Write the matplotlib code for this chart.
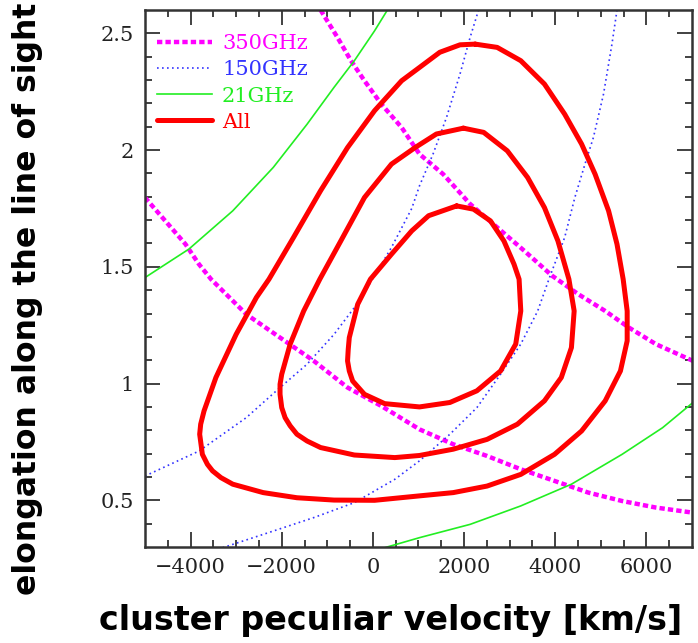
import matplotlib.pyplot as plt

# confidence contours of the combined fit ("All")
outer_x = [2244, 2726, 3244, 3763, 4207, 4578, 4874, 5170, 5355, 5490, 5578, 5578, 5430, 5096, 4578,
           3985, 3244, 2504, 1763, 1022, 37, -852, -1667, -2407, -3074, -3333, -3518, -3630, -3741,
           -3800, -3778, -3704, -3444, -3000, -2555, -2280, -1741, -1148, -556, 37, 630, 1022, 1467,
           1911, 2244]
outer_y = [2.454, 2.44, 2.383, 2.283, 2.154, 2.026, 1.897, 1.74, 1.597, 1.447, 1.311, 1.183, 1.054, 0.926,
           0.797, 0.697, 0.611, 0.561, 0.533, 0.519, 0.5, 0.501, 0.511, 0.533, 0.569, 0.597, 0.626, 0.654,
           0.697, 0.783, 0.826, 0.883, 1.026, 1.211, 1.369, 1.447, 1.626, 1.826, 2.011, 2.169, 2.297,
           2.354, 2.419, 2.451, 2.454]
mid_x = [1985, 2430, 2948, 3393, 3763, 4059, 4300, 4415, 4355, 4133, 3763, 3170, 2504, 1763, 1022,
         481, -407, -1148, -1444, -1667, -1815, -1926, -2000, -2037, -2037, -2000, -1815, -1518, -1165,
         -704, -185, 407, 926, 1393, 1985]
mid_y = [2.094, 2.076, 1.997, 1.883, 1.754, 1.611, 1.447, 1.311, 1.154, 1.026, 0.926, 0.826, 0.761,
         0.719, 0.692, 0.683, 0.694, 0.726, 0.754, 0.783, 0.819, 0.854, 0.897, 0.954, 0.997, 1.04,
         1.169, 1.311, 1.447, 1.611, 1.797, 1.94, 2.011, 2.069, 2.094]
inner_x = [1837, 2207, 2578, 2874, 3096, 3207, 3244, 3133, 2800, 2281, 1689, 1022, 259, -185, -444,
           -518, -556, -541, -518, -333, -55, 407, 852, 1222, 1837]
inner_y = [1.761, 1.747, 1.697, 1.611, 1.511, 1.447, 1.311, 1.169, 1.054, 0.969, 0.919, 0.9, 0.914,
           0.954, 1.011, 1.054, 1.097, 1.147, 1.197, 1.34, 1.447, 1.554, 1.654, 1.719, 1.761]

# 350 GHz degeneracy lines
ghz350_a_x = [-1148, -778, -481, -185, 185, 630, 1022, 1541, 2133, 2726, 3319, 3930, 4504, 5096,
              5615, 6207, 7022]
ghz350_a_y = [2.6, 2.483, 2.383, 2.297, 2.197, 2.097, 1.983, 1.897, 1.769, 1.669, 1.569, 1.462, 1.383,
              1.311, 1.24, 1.169, 1.097]
ghz350_b_x = [-5000, -4555, -4111, -3815, -3550, -2778, -2037, -1296, -556, 185, 1022, 1763, 2504,
              3244, 3985, 4726, 5467, 6207, 7022]
ghz350_b_y = [1.797, 1.697, 1.597, 1.511, 1.447, 1.297, 1.197, 1.097, 0.983, 0.904, 0.804, 0.74, 0.69,
              0.633, 0.583, 0.533, 0.497, 0.469, 0.447]

# 150 GHz
ghz150_a_x = [-5000, -3815, -2778, -2037, -1444, -852, -296, 407, 852, 1022, 1319, 1615, 1911, 2133,
              2318]
ghz150_a_y = [0.604, 0.711, 0.854, 0.983, 1.083, 1.211, 1.354, 1.583, 1.75, 1.847, 1.983, 2.14, 2.326,
              2.483, 2.6]
ghz150_b_x = [-3296, -2407, -1296, -407, 481, 1022, 1689, 2281, 2800, 3244, 3615, 3874, 4207, 4430,
              4652, 4837, 5059, 5244, 5355]
ghz150_b_y = [0.297, 0.354, 0.426, 0.49, 0.59, 0.669, 0.783, 0.897, 1.04, 1.169, 1.311, 1.454, 1.626,
              1.797, 1.94, 2.054, 2.24, 2.454, 2.6]

# 21 GHz
ghz21_a_x = [-5000, -4037, -3074, -2185, -1444, -852, -407, 37, 318]
ghz21_a_y = [1.454, 1.576, 1.74, 1.926, 2.111, 2.269, 2.383, 2.511, 2.6]
ghz21_b_x = [259, 1022, 2133, 3244, 4355, 5467, 6355, 7022]
ghz21_b_y = [0.297, 0.34, 0.397, 0.476, 0.569, 0.697, 0.811, 0.919]

magenta = '#ff00ff'
blue = '#3333ff'
green = '#22ee22'
red = '#ff0000'

fig = plt.figure(figsize=(6.98, 6.43), dpi=100)
ax = fig.add_axes([0.2077, 0.1493, 0.7837, 0.8351])

ax.plot(ghz350_a_x, ghz350_a_y, color=magenta, lw=3.2, dashes=(1.2, 0.7), label='350GHz')
ax.plot(ghz350_b_x, ghz350_b_y, color=magenta, lw=3.2, dashes=(1.2, 0.7))
ax.plot(ghz150_a_x, ghz150_a_y, color=blue, lw=1.2, dashes=(1, 2), label='150GHz')
ax.plot(ghz150_b_x, ghz150_b_y, color=blue, lw=1.2, dashes=(1, 2))
ax.plot(ghz21_a_x, ghz21_a_y, color=green, lw=1.2, label='21GHz')
ax.plot(ghz21_b_x, ghz21_b_y, color=green, lw=1.2)
for cx, cy, lab in [(outer_x, outer_y, 'All'), (mid_x, mid_y, None), (inner_x, inner_y, None)]:
    ax.plot(cx, cy, color=red, lw=3.6, label=lab, solid_joinstyle='round', solid_capstyle='round')

ax.set_xlim(-5000, 7000)
ax.set_ylim(0.3, 2.6)
ax.set_xticks([-4000, -2000, 0, 2000, 4000, 6000])
ax.set_xticklabels(['\u22124000', '\u22122000', '0', '2000', '4000', '6000'])
ax.set_yticks([0.5, 1, 1.5, 2, 2.5])
ax.set_yticklabels(['0.5', '1', '1.5', '2', '2.5'])
ax.set_xticks(range(-4500, 7000, 500), minor=True)
ax.set_yticks([0.4 + 0.1 * i for i in range(22)], minor=True)
ax.tick_params(which='both', direction='in', top=True, right=True, colors='#333333',
               labelcolor='#222222', width=1.3)
ax.tick_params(which='major', length=11, pad=8, labelsize=15)
ax.tick_params(which='minor', length=5)
for lbl in ax.get_xticklabels() + ax.get_yticklabels():
    lbl.set_family('DejaVu Serif')
for sp in ax.spines.values():
    sp.set_linewidth(1.8)
    sp.set_color('#333333')

leg = ax.legend(loc='upper left', frameon=False, handlelength=2.6, handletextpad=0.5,
                labelspacing=0.34, borderaxespad=0.2, bbox_to_anchor=(0.0, 0.978),
                prop={'family': 'DejaVu Serif', 'size': 15})
for txt, col in zip(leg.get_texts(), [magenta, blue, green, red]):
    txt.set_color(col)

fig.text(0.56, 0.035, 'cluster peculiar velocity [km/s]', ha='center', va='center',
         fontsize=24, fontweight='bold', family='DejaVu Sans')
fig.text(0.039, 0.535, 'elongation along the line of sight', ha='center', va='center',
         rotation=90, fontsize=22.7, fontweight='bold', family='DejaVu Sans')

fig.savefig('out.png', dpi=100)
